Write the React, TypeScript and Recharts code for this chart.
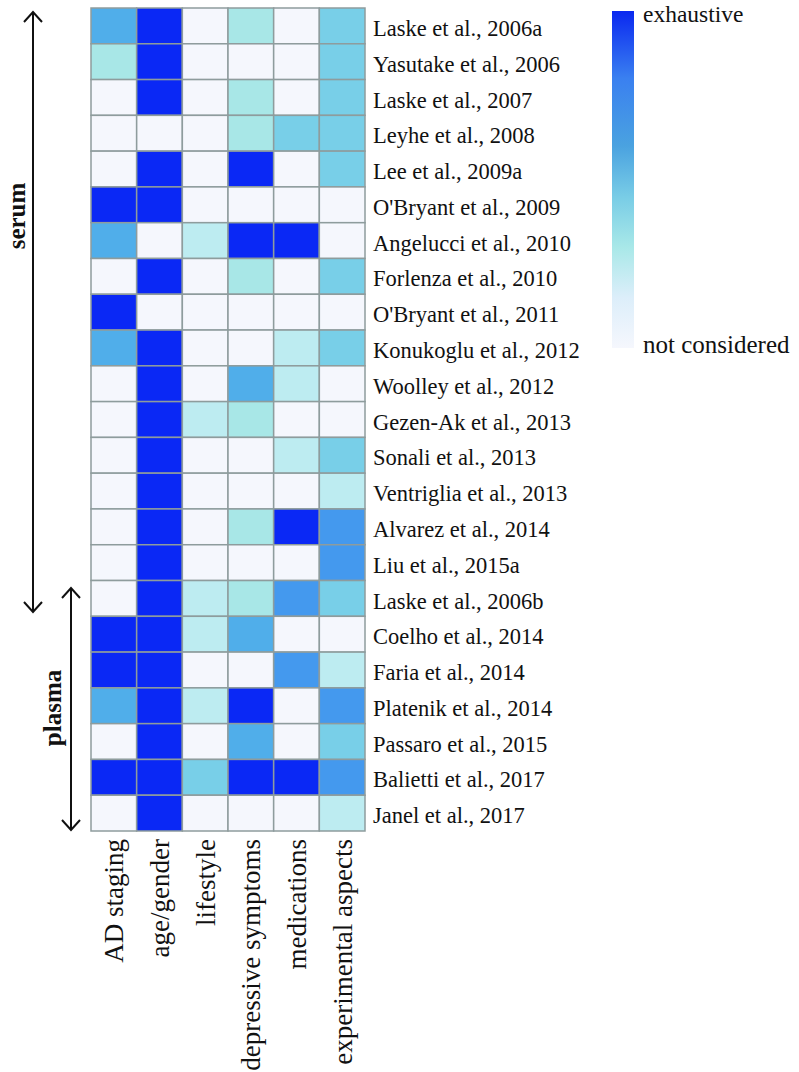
import { Customized, Scatter, ScatterChart, XAxis, YAxis } from "recharts";

const studies = [
  "Laske et al., 2006a",
  "Yasutake et al., 2006",
  "Laske et al., 2007",
  "Leyhe et al., 2008",
  "Lee et al., 2009a",
  "O'Bryant et al., 2009",
  "Angelucci et al., 2010",
  "Forlenza et al., 2010",
  "O'Bryant et al., 2011",
  "Konukoglu et al., 2012",
  "Woolley et al., 2012",
  "Gezen-Ak et al., 2013",
  "Sonali et al., 2013",
  "Ventriglia et al., 2013",
  "Alvarez et al., 2014",
  "Liu et al., 2015a",
  "Laske et al., 2006b",
  "Coelho et al., 2014",
  "Faria et al., 2014",
  "Platenik et al., 2014",
  "Passaro et al., 2015",
  "Balietti et al., 2017",
  "Janel et al., 2017",
];

const aspects = [
  "AD staging",
  "age/gender",
  "lifestyle",
  "depressive symptoms",
  "medications",
  "experimental aspects",
];

// 0 = not considered ... 6 = exhaustive
const levels = [
  [4, 6, 0, 2, 0, 3],
  [2, 6, 0, 0, 0, 3],
  [0, 6, 0, 2, 0, 3],
  [0, 0, 0, 2, 3, 3],
  [0, 6, 0, 6, 0, 3],
  [6, 6, 0, 0, 0, 0],
  [4, 0, 1, 6, 6, 0],
  [0, 6, 0, 2, 0, 3],
  [6, 0, 0, 0, 0, 0],
  [4, 6, 0, 0, 1, 3],
  [0, 6, 0, 4, 1, 0],
  [0, 6, 1, 2, 0, 0],
  [0, 6, 0, 0, 1, 3],
  [0, 6, 0, 0, 0, 1],
  [0, 6, 0, 2, 6, 5],
  [0, 6, 0, 0, 0, 5],
  [0, 6, 1, 2, 5, 3],
  [6, 6, 1, 4, 0, 0],
  [6, 6, 0, 0, 5, 1],
  [4, 6, 1, 6, 0, 5],
  [0, 6, 0, 4, 0, 3],
  [6, 6, 3, 6, 6, 5],
  [0, 6, 0, 0, 0, 1],
];

const levelColors = ["#f5f7fd", "#bdecf1", "#a8e7e7", "#78cfe8", "#50aeea", "#4499ee", "#0a28f5"];

const FONT = "'Liberation Serif', 'Times New Roman', serif";
const CELL_W = 274 / 6;
const CELL_H = 823 / 23;

const cells = levels.flatMap((row, r) => row.map((v, c) => ({ x: c, y: r, v })));

function CellShape(props: any) {
  const { cx, cy, payload } = props;
  return (
    <rect
      x={cx - CELL_W / 2}
      y={cy - CELL_H / 2}
      width={CELL_W}
      height={CELL_H}
      fill={levelColors[payload.v]}
      stroke="#8e9c9d"
      strokeWidth={1.5}
    />
  );
}

function AspectTick(props: any) {
  const { x, y, payload } = props;
  return (
    <g transform={`translate(${x},${y})`}>
      <text
        transform="rotate(-90)"
        x={0}
        dy="0.35em"
        textAnchor="end"
        fontFamily={FONT}
        fontSize={27}
        fill="#111"
      >
        {aspects[payload.value]}
      </text>
    </g>
  );
}

function StudyTick(props: any) {
  const { x, y, payload } = props;
  return (
    <text x={x} y={y} dy="0.45em" textAnchor="start" fontFamily={FONT} fontSize={22.5} fill="#111">
      {studies[payload.value]}
    </text>
  );
}

function Arrow({ x, y1, y2 }: { x: number; y1: number; y2: number }) {
  return (
    <g stroke="#111" strokeWidth={2} fill="none">
      <line x1={x} y1={y1} x2={x} y2={y2} />
      <polyline points={`${x - 9},${y1 + 10} ${x},${y1} ${x + 9},${y1 + 10}`} />
      <polyline points={`${x - 9},${y2 - 10} ${x},${y2} ${x + 9},${y2 - 10}`} />
    </g>
  );
}

function Decor() {
  return (
    <g>
      <defs>
        <linearGradient id="bar" x1="0" y1="0" x2="0" y2="1">
          <stop offset="0" stopColor="#0a28f0" />
          <stop offset="0.2" stopColor="#3a80f0" />
          <stop offset="0.4" stopColor="#4aa2e0" />
          <stop offset="0.55" stopColor="#78cce6" />
          <stop offset="0.7" stopColor="#a8e8e8" />
          <stop offset="0.85" stopColor="#dceefa" />
          <stop offset="1" stopColor="#f5f7fd" />
        </linearGradient>
      </defs>
      <rect x={612} y={11} width={22} height={337} fill="url(#bar)" />
      <text x={643} y={22} fontFamily={FONT} fontSize={23.5} fill="#111">
        exhaustive
      </text>
      <text x={643} y={353} fontFamily={FONT} fontSize={25} fill="#111">
        not considered
      </text>
      <Arrow x={33} y1={12} y2={612} />
      <Arrow x={71} y1={588} y2={830} />
      <text
        transform="translate(25,216) rotate(-90)"
        textAnchor="middle"
        fontFamily={FONT}
        fontWeight="bold"
        fontSize={25}
        fill="#111"
      >
        serum
      </text>
      <text
        transform="translate(61,708) rotate(-90)"
        textAnchor="middle"
        fontFamily={FONT}
        fontWeight="bold"
        fontSize={25}
        fill="#111"
      >
        plasma
      </text>
    </g>
  );
}

export default function App() {
  return (
    <div style={{ position: "absolute", left: 0, top: 0, background: "#fff" }}>
      <ScatterChart width={799} height={1072} margin={{ top: 8, left: 91, right: 234, bottom: 11 }}>
        <XAxis
          type="number"
          dataKey="x"
          domain={[-0.5, 5.5]}
          ticks={[0, 1, 2, 3, 4, 5]}
          interval={0}
          height={230}
          axisLine={false}
          tickLine={false}
          tick={<AspectTick />}
        />
        <YAxis
          type="number"
          dataKey="y"
          orientation="right"
          reversed
          domain={[-0.5, 22.5]}
          ticks={studies.map((_, i) => i)}
          interval={0}
          width={200}
          axisLine={false}
          tickLine={false}
          tick={<StudyTick />}
        />
        <Scatter data={cells} shape={<CellShape />} isAnimationActive={false} />
        <Customized component={Decor} />
      </ScatterChart>
    </div>
  );
}
